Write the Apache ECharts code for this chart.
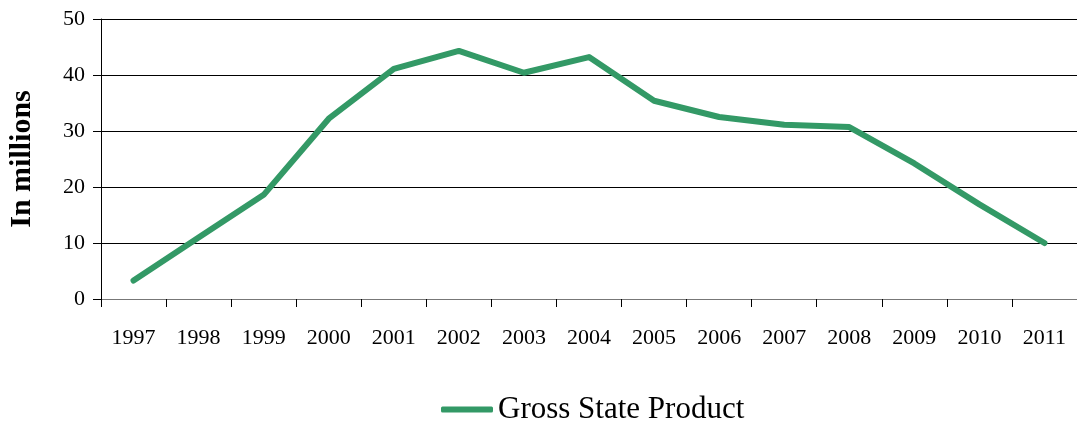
<!DOCTYPE html>
<html>
<head>
<meta charset="utf-8">
<script src="https://cdn.jsdelivr.net/npm/echarts@6/dist/echarts.min.js"></script>
<style>
  html, body { margin: 0; padding: 0; background: #fff; }
  #chart { width: 1077px; height: 423px; }
</style>
</head>
<body>
<div id="chart"></div>
<script>
// data
var years = ["1997", "1998", "1999", "2000", "2001", "2002", "2003", "2004",
  "2005", "2006", "2007", "2008", "2009", "2010", "2011"];
var grossStateProduct = [3.3, 11.0, 18.6, 32.2, 41.1, 44.3, 40.4, 43.2,
  35.4, 32.5, 31.1, 30.7, 24.2, 16.9, 10.0];
var seriesName = "Gross State Product";
var yTitle = "In millions";

var font = "'Liberation Serif', 'DejaVu Serif', serif";
var chart = echarts.init(document.getElementById("chart"));

chart.setOption({
  animation: false,
  textStyle: { fontFamily: font },
  grid: { left: 101, right: 0, top: 19, bottom: 124, containLabel: false, outerBoundsMode: "none" },
  legend: {
    data: [seriesName],
    top: 394,
    left: 441,
    padding: 0,
    itemWidth: 52,
    itemHeight: 6,
    itemGap: 6,
    icon: "roundRect",
    textStyle: { fontFamily: font, fontSize: 31, color: "#000" }
  },
  xAxis: {
    type: "category",
    data: years,
    boundaryGap: true,
    axisLine: { lineStyle: { color: "#777", width: 1 } },
    axisTick: { show: true, length: 8, inside: false, lineStyle: { color: "#000" } },
    axisLabel: { color: "#000", fontSize: 22, margin: 28, fontFamily: font }
  },
  yAxis: {
    type: "value",
    min: 0,
    max: 50,
    interval: 10,
    name: yTitle,
    nameLocation: "middle",
    nameGap: 64,
    nameTextStyle: { fontFamily: font, fontSize: 30, fontWeight: "bold", color: "#000" },
    axisLine: { show: true, lineStyle: { color: "#000", width: 1 } },
    axisTick: { show: true, length: 8, lineStyle: { color: "#000" } },
    axisLabel: { color: "#000", fontSize: 22, margin: 16, fontFamily: font },
    splitLine: { show: true, lineStyle: { color: "#000", width: 1 } }
  },
  series: [{
    name: seriesName,
    type: "line",
    data: grossStateProduct,
    symbol: "none",
    lineStyle: { color: "#339966", width: 6, cap: "round", join: "round" },
    itemStyle: { color: "#339966" }
  }]
});
</script>
</body>
</html>
